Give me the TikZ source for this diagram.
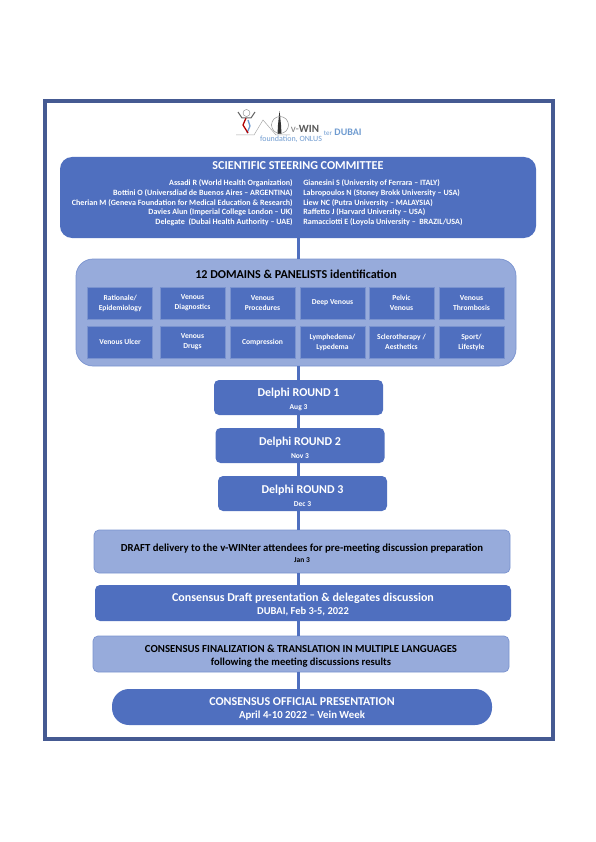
\documentclass[tikz,border=0pt]{standalone}
\usepackage{fontspec}
\setmainfont{Carlito}
\definecolor{deepblue}{HTML}{4F6FBF}
\definecolor{paleblue}{HTML}{97ABDB}
\definecolor{edgeblue}{HTML}{7A93CF}
\definecolor{framenavy}{HTML}{455A92}
\definecolor{logoblue}{HTML}{6F9BD0}
\newcommand{\lift}[1]{\rule{0pt}{#1}}
\begin{document}
\begin{tikzpicture}[x=1pt,y=-1pt,
  every node/.style = {inner sep=0pt, outer sep=0pt},
  deepbox/.style  = {fill=deepblue, text=white, font=\fontsize{10}{13}\selectfont\bfseries, align=center},
  palebox/.style  = {fill=paleblue, draw=edgeblue, line width=.7pt, text=black, font=\fontsize{10}{13}\selectfont\bfseries, align=center},
  domainbox/.style = {deepbox, draw=edgeblue, line width=.6pt, font=\fontsize{7.6}{10}\selectfont\bfseries,
                     minimum width=65pt, minimum height=32pt},
  roundbox/.style = {deepbox, rounded corners=5pt, minimum width=169pt, minimum height=35pt},
  names/.style    = {text=white, font=\fontsize{8.05}{9.8}\selectfont\bfseries}]
  \useasboundingbox (0,0) rectangle (595,842);
  \draw[framenavy, line width=4pt] (44.7,101) rectangle (552.5,739);
  \coordinate (spine) at (298,0);

  % logo
  \draw[gray!70, line width=.5pt] (236,135) -- (254,135) -- (263,120) -- (276,135) -- (290,135);
  \draw[logoblue, line width=1.3pt] (248,120) -- (250,126) -- (247,133);
  \draw[red!70!black, line width=1.3pt] (246,118) -- (243,125) -- (248,133);
  \draw[gray!80!black, line width=1pt] (238,112) -- (242,118) -- (251,118) -- (255,112);
  \draw[gray] (246.5,113) circle (3.5pt);
  \fill[black!80] (277.500,134) -- (278,125) -- (279,115) -- (279.500,111) -- (280,115) -- (281,125) -- (281.500,134) -- cycle;
  \draw[gray] (280,125) circle (8.5pt);
  \node (logoWin) at (305,128.500) {\fontsize{11}{12}\selectfont\textcolor{gray}{v-}\textcolor{gray!70!black}{\bfseries WIN}};
  \node (logoTer) at (328,133) {\fontsize{7}{8}\selectfont\textcolor{logoblue}{ter}};
  \node (logoDubai) at (348,132) {\fontsize{10}{11}\selectfont\bfseries\textcolor{logoblue}{DUBAI}};
  \node[anchor=west] (logoFound) at (260,139.500) {\fontsize{8}{9}\selectfont\textcolor{logoblue}{foundation, ONLUS}};

  % committee
  \node[deepbox, rounded corners=12pt, minimum width=476pt, minimum height=81pt] (steering) at (298,197.500) {};
  \node[text=white, font=\fontsize{12.1}{13}\selectfont\bfseries] (steerTitle) at (298,166) {SCIENTIFIC STEERING COMMITTEE};
  \node[names, align=right, anchor=north east] (steerLeft) at (292.700,179.500) {Assadi R (World Health Organization)\\
    Bottini O (Universdiad de Buenos Aires -- ARGENTINA)\\
    Cherian M (Geneva Foundation for Medical Education \& Research)\\
    Davies Alun (Imperial College London -- UK)\\
    Delegate~~(Dubai Health Authority -- UAE)};
  \node[names, align=left, anchor=north west] (steerRight) at (303.300,179.500) {Gianesini S (University of Ferrara -- ITALY)\\
    Labropoulos N (Stoney Brokk University -- USA)\\
    Liew NC (Putra University -- MALAYSIA)\\
    Raffetto J (Harvard University -- USA)\\
    Ramacciotti E (Loyola University --~~BRAZIL/USA)};

  % domains
  \node[palebox, rounded corners=17pt, minimum width=440pt, minimum height=107pt] (panel) at (296,312.500) {};
  \node[font=\fontsize{12.1}{13}\selectfont\bfseries] (panelTitle) at (296,274) {12 DOMAINS \& PANELISTS identification};
  \node[domainbox] (rationale) at (120.200,303) {Rationale/\\Epidemiology};
  \node[domainbox] (diagnostics) at (192.500,303) {Venous\\Diagnostics};
  \node[domainbox] (procedures) at (262.500,303) {Venous\\Procedures};
  \node[domainbox] (deep) at (332.500,303) {Deep Venous};
  \node[domainbox] (pelvic) at (401.500,303) {Pelvic\\Venous};
  \node[domainbox] (thrombosis) at (471.500,303) {Venous\\Thrombosis};
  \node[domainbox] (ulcer) at (120.200,342) {Venous Ulcer};
  \node[domainbox] (drugs) at (192.500,342) {Venous\\Drugs};
  \node[domainbox] (compression) at (262.500,342) {Compression};
  \node[domainbox] (lymph) at (332.500,342) {Lymphedema/\\Lypedema};
  \node[domainbox] (sclero) at (401.500,342) {Sclerotherapy /\\Aesthetics};
  \node[domainbox] (sport) at (471.500,342) {Sport/\\Lifestyle};

  % rounds
  \node[roundbox] (delphiA) at (298.500,397.500) {{\lift{13pt}\fontsize{12}{13}\selectfont Delphi ROUND 1}\\{\fontsize{7.5}{8}\selectfont Aug 3}};
  \node[roundbox] (delphiB) at (300,445.500) {{\lift{13pt}\fontsize{12}{13}\selectfont Delphi ROUND 2}\\{\fontsize{7.5}{8}\selectfont Nov 3}};
  \node[roundbox] (delphiC) at (302.500,493.500) {{\lift{13pt}\fontsize{12}{13}\selectfont Delphi ROUND 3}\\{\fontsize{7.5}{8}\selectfont Dec 3}};
  \node[palebox, rounded corners=5pt, minimum width=416pt, minimum height=43pt] (draft) at (302,551.500)
    {{\lift{10.5pt}\fontsize{10.75}{12}\selectfont DRAFT delivery to the v-WINter attendees for pre-meeting discussion preparation}\\[-2pt]{\fontsize{7.5}{8}\selectfont Jan 3}};
  \node[deepbox, rounded corners=5pt, minimum width=416pt, minimum height=36pt] (meeting) at (303,603)
    {{\lift{11pt}\fontsize{12}{13}\selectfont Consensus Draft presentation \& delegates discussion}\\{\fontsize{10.5}{12}\selectfont DUBAI, Feb 3-5, 2022}};
  \node[palebox, rounded corners=5pt, minimum width=416pt, minimum height=36pt] (final) at (301,654)
    {{\lift{11.5pt}\fontsize{10.8}{12}\selectfont CONSENSUS FINALIZATION \& TRANSLATION IN MULTIPLE LANGUAGES}\\{\fontsize{10.6}{12}\selectfont following the meeting discussions results}};
  \node[deepbox, rounded corners=17pt, minimum width=380pt, minimum height=36pt] (official) at (302,707)
    {{\lift{12.5pt}\fontsize{12}{13}\selectfont CONSENSUS OFFICIAL PRESENTATION}\\{\fontsize{10.8}{12}\selectfont April 4-10 2022 -- Vein Week}};

  \foreach \from/\to in {steering/panel,panel/delphiA,delphiA/delphiB,delphiB/delphiC,delphiC/draft,draft/meeting,meeting/final,final/official}
    \draw[deepblue, line width=3pt] (\from.south -| spine) -- (\to.north -| spine);
\end{tikzpicture}
\end{document}
